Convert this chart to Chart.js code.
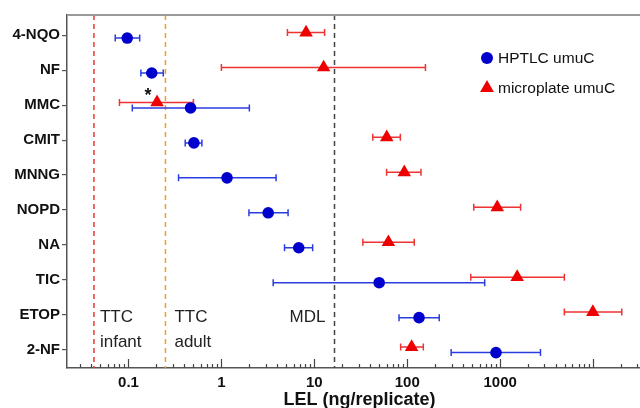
<!DOCTYPE html>
<html>
<head>
<meta charset="utf-8">
<script src="https://cdn.jsdelivr.net/npm/chart.js@4"></script>
<style>
  html, body { margin: 0; padding: 0; background: #fff; }
  #wrap { width: 640px; height: 408px; }
</style>
</head>
<body>
<div id="wrap"><canvas id="chartLel"></canvas></div>
<script>
const categories = ["4-NQO", "NF", "MMC", "CMIT", "MNNG", "NOPD", "NA", "TIC", "ETOP", "2-NF"];

// HPTLC umuC: LEL and error range
const hptlcLel = [0.097, 0.178, 0.466, 0.506, 1.15, 3.19, 6.8, 49.9, 134, 902];
const hptlcLow = [0.072, 0.136, 0.11, 0.408, 0.346, 1.98, 4.78, 3.61, 81.6, 297];
const hptlcHigh = [0.132, 0.237, 2.0, 0.617, 3.88, 5.22, 9.6, 682, 221, 2717];

// microplate umuC: LEL and error range
const plateLel = [8.15, 12.6, 0.203, 60.2, 93, 931, 62.7, 1525, 9950, 111.5];
const plateLow = [5.14, 1.0, 0.08, 42.6, 60, 520, 33.3, 483, 4910, 85];
const plateHigh = [12.9, 157, 0.5, 84.3, 140.6, 1660, 119, 4910, 20360, 149];

// x axis ticks
const majorTicks = [0.1, 1, 10, 100, 1000, 10000];
const majorLabels = ["0.1", "1", "10", "100", "1000", ""];
const minorTicks = [
  0.03, 0.04, 0.05, 0.06, 0.07, 0.08, 0.09,
  0.2, 0.3, 0.4, 0.5, 0.6, 0.7, 0.8, 0.9,
  2, 3, 4, 5, 6, 7, 8, 9,
  20, 30, 40, 50, 60, 70, 80, 90,
  200, 300, 400, 500, 600, 700, 800, 900,
  2000, 3000, 4000, 5000, 6000, 7000, 8000, 9000,
  20000, 30000,
];

// reference lines
const refValues = [0.0425, 0.25, 16.5];
const refColors = ["#ee3333", "#f0a020", "#444444"];
const refLabels = [["TTC", "infant"], ["TTC", "adult"], ["MDL"]];

const xTitle = "LEL (ng/replicate)";

const chartLelElement = document.querySelector("#chartLel");

const lelPlugin = {
  id: "lelPlugin",
  beforeDatasetsDraw(chart) {
    const { ctx, chartArea } = chart;
    const xScale = chart.scales.x;
    const yScale = chart.scales.y;

    // dashed reference lines
    ctx.save();
    ctx.lineWidth = 1.5;
    ctx.setLineDash([5, 4]);
    refValues.forEach((v, i) => {
      const px = xScale.getPixelForValue(v);
      ctx.strokeStyle = refColors[i];
      ctx.beginPath();
      ctx.moveTo(px, chartArea.top);
      ctx.lineTo(px, chartArea.bottom);
      ctx.stroke();
    });
    ctx.restore();

    // error bars
    chart.data.datasets.forEach((ds) => {
      ctx.save();
      ctx.strokeStyle = ds.errColor;
      ctx.lineWidth = 1.5;
      ds.data.forEach((pt, i) => {
        const x1 = xScale.getPixelForValue(ds.errLow[i]);
        const x2 = xScale.getPixelForValue(ds.errHigh[i]);
        const py = yScale.getPixelForValue(pt.y);
        ctx.beginPath();
        ctx.moveTo(x1, py);
        ctx.lineTo(x2, py);
        ctx.moveTo(x1, py - 3.5);
        ctx.lineTo(x1, py + 3.5);
        ctx.moveTo(x2, py - 3.5);
        ctx.lineTo(x2, py + 3.5);
        ctx.stroke();
      });
      ctx.restore();
    });
  },
  afterDraw(chart) {
    const { ctx, chartArea } = chart;
    const xScale = chart.scales.x;
    const yScale = chart.scales.y;

    ctx.save();
    // top border
    ctx.strokeStyle = "#9a9a9a";
    ctx.lineWidth = 2;
    ctx.beginPath();
    ctx.moveTo(chartArea.left, chartArea.top);
    ctx.lineTo(chartArea.right, chartArea.top);
    ctx.stroke();

    // inward x ticks
    ctx.strokeStyle = "#444";
    ctx.lineWidth = 1.2;
    majorTicks.forEach((v) => {
      const px = Math.round(xScale.getPixelForValue(v)) + 0.5;
      ctx.beginPath();
      ctx.moveTo(px, chartArea.bottom);
      ctx.lineTo(px, chartArea.bottom - 9);
      ctx.stroke();
    });
    minorTicks.forEach((v) => {
      const px = Math.round(xScale.getPixelForValue(v)) + 0.5;
      ctx.beginPath();
      ctx.moveTo(px, chartArea.bottom);
      ctx.lineTo(px, chartArea.bottom - 4);
      ctx.stroke();
    });

    // x axis title
    ctx.fillStyle = "#111";
    ctx.font = "bold 18px 'Liberation Sans', Arial, sans-serif";
    ctx.textAlign = "center";
    ctx.textBaseline = "middle";
    ctx.fillText(xTitle, (chartArea.left + chartArea.right) / 2 + 6, 400);

    // reference line labels
    ctx.fillStyle = "#222";
    ctx.font = "17px 'Liberation Sans', Arial, sans-serif";
    const rowY = yScale.getPixelForValue(9);
    refValues.forEach((v, i) => {
      const px = xScale.getPixelForValue(v);
      const lines = refLabels[i];
      if (i === 2) {
        ctx.textAlign = "right";
        ctx.fillText(lines[0], px - 9, rowY + 2);
      } else {
        ctx.textAlign = "left";
        const dx = i === 0 ? 6 : 9;
        lines.forEach((t, k) => ctx.fillText(t, px + dx, rowY + 2 + k * 25));
      }
    });

    // asterisk next to MMC microplate value
    const ax = xScale.getPixelForValue(plateLel[2]) - 9;
    const ay = yScale.getPixelForValue(3 - 0.08) - 6;
    ctx.fillStyle = "#111";
    ctx.font = "bold 18px 'Liberation Sans', Arial, sans-serif";
    ctx.textAlign = "center";
    ctx.fillText("*", ax, ay);

    // legend
    const legendX = 487;
    const legendY = [58, 88];
    ctx.font = "15.5px 'Liberation Sans', Arial, sans-serif";
    ctx.textAlign = "left";
    chart.data.datasets.forEach((ds, i) => {
      const y = legendY[i];
      ctx.fillStyle = ds.backgroundColor;
      ctx.beginPath();
      if (ds.pointStyle === "circle") {
        ctx.arc(legendX, y, 6, 0, Math.PI * 2);
      } else {
        const r = 8;
        ctx.moveTo(legendX, y - r);
        ctx.lineTo(legendX + r * 0.866, y + r / 2);
        ctx.lineTo(legendX - r * 0.866, y + r / 2);
        ctx.closePath();
      }
      ctx.fill();
      ctx.fillStyle = "#111";
      ctx.fillText(ds.label, legendX + 11, y + 1);
    });
    ctx.restore();
  },
};

const chartLel = new Chart(chartLelElement, {
  type: "scatter",
  data: {
    datasets: [
      {
        label: "HPTLC umuC",
        data: hptlcLel.map((v, i) => ({ x: v, y: i + 1 + 0.08 })),
        errLow: hptlcLow,
        errHigh: hptlcHigh,
        errColor: "#2a3ee0",
        pointStyle: "circle",
        radius: 5.8,
        backgroundColor: "#0000cc",
        borderColor: "#0000cc",
        borderWidth: 0,
      },
      {
        label: "microplate umuC",
        data: plateLel.map((v, i) => ({ x: v, y: i + 1 - 0.08 })),
        errLow: plateLow,
        errHigh: plateHigh,
        errColor: "#ee3333",
        pointStyle: "triangle",
        radius: 7.8,
        backgroundColor: "#ee0000",
        borderColor: "#ee0000",
        borderWidth: 0,
      },
    ],
  },
  options: {
    responsive: true,
    maintainAspectRatio: false,
    animation: false,
    layout: { autoPadding: false, padding: { top: 15, right: 0, left: 0, bottom: 0 } },
    plugins: {
      legend: { display: false },
      tooltip: { enabled: false },
    },
    scales: {
      x: {
        type: "logarithmic",
        min: 0.0218,
        max: 32000,
        afterBuildTicks: (scale) => {
          scale.ticks = majorTicks.map((v) => ({ value: v }));
        },
        afterFit: (scale) => {
          scale.height = 40;
          scale.paddingLeft = 0;
          scale.paddingRight = 0;
        },
        grid: { display: false, drawTicks: false, tickLength: 0 },
        border: { display: true, color: "#555", width: 1.5 },
        ticks: {
          autoSkip: false,
          maxRotation: 0,
          padding: 6,
          color: "#111",
          font: { family: "'Liberation Sans', Arial, sans-serif", size: 15, weight: "bold" },
          callback: (value) => {
            const idx = majorTicks.indexOf(value);
            return idx >= 0 ? majorLabels[idx] : "";
          },
        },
      },
      y: {
        type: "linear",
        reverse: true,
        min: 0.42,
        max: 10.52,
        afterBuildTicks: (scale) => {
          scale.ticks = categories.map((c, i) => ({ value: i + 1 }));
        },
        afterFit: (scale) => {
          scale.width = 67;
        },
        grid: { display: true, drawOnChartArea: false, tickLength: 5, color: "#555", lineWidth: 1.2 },
        border: { display: true, color: "#555", width: 1.5 },
        ticks: {
          autoSkip: false,
          padding: 2,
          color: "#111",
          font: { family: "'Liberation Sans', Arial, sans-serif", size: 15, weight: "bold" },
          callback: (value) => categories[value - 1],
        },
      },
    },
  },
  plugins: [lelPlugin],
});
</script>
</body>
</html>
